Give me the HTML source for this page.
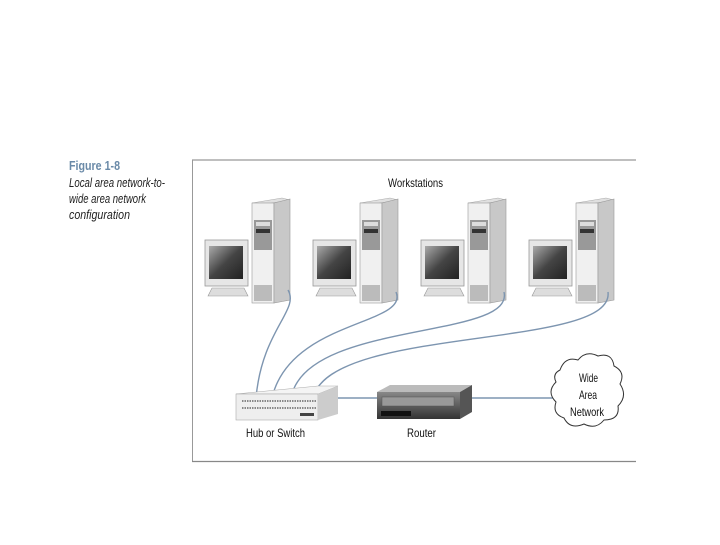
<!DOCTYPE html>
<html><head><meta charset="utf-8"><style>
body{margin:0;background:#fff;width:720px;height:540px;overflow:hidden;font-family:"Liberation Sans",sans-serif}
</style></head><body>
<svg width="720" height="540" viewBox="0 0 720 540" xmlns="http://www.w3.org/2000/svg">
<defs>
<linearGradient id="scr" x1="0" y1="0" x2="1" y2="1"><stop offset="0" stop-color="#aaa"/><stop offset="0.5" stop-color="#444"/><stop offset="1" stop-color="#222"/></linearGradient>
<linearGradient id="rt" x1="0" y1="0" x2="0" y2="1"><stop offset="0" stop-color="#888"/><stop offset="1" stop-color="#333"/></linearGradient>
<g id="ws">
 <rect x="205" y="240" width="43" height="46" fill="#e6e6e6" stroke="#999" stroke-width="0.8"/>
 <rect x="209" y="246" width="34" height="33" fill="url(#scr)"/>
 <polygon points="212,288 244,288 248,296 208,296" fill="#ddd" stroke="#999" stroke-width="0.6"/>
 <polygon points="252,203 282,198 290,200 260,205" fill="#e0e0e0" stroke="#aaa" stroke-width="0.5"/>
 <rect x="252" y="203" width="22" height="100" fill="#f0f0f0" stroke="#999" stroke-width="0.6"/>
 <polygon points="274,203 290,199 290,300 274,303" fill="#c8c8c8" stroke="#999" stroke-width="0.6"/>
 <rect x="254" y="220" width="18" height="30" fill="#999"/>
 <rect x="256" y="222" width="14" height="4" fill="#ddd"/>
 <rect x="256" y="229" width="14" height="4" fill="#333"/>
 <rect x="254" y="285" width="18" height="16" fill="#bbb"/>
</g>
</defs>
<text x="69" y="170" font-size="13" fill="#6a8aa8" font-weight="bold" textLength="51" lengthAdjust="spacingAndGlyphs">Figure 1-8</text>
<text font-size="12.5" font-style="italic" fill="#222">
<tspan x="69" y="187" textLength="96" lengthAdjust="spacingAndGlyphs">Local area network-to-</tspan><tspan x="69" y="203" textLength="77" lengthAdjust="spacingAndGlyphs">wide area network</tspan><tspan x="69" y="219" textLength="61" lengthAdjust="spacingAndGlyphs">configuration</tspan></text>
<line x1="192" y1="160" x2="636" y2="160" stroke="#999" stroke-width="1.2"/>
<line x1="192.5" y1="160" x2="192.5" y2="462" stroke="#999" stroke-width="1"/>
<line x1="192" y1="461.5" x2="636" y2="461.5" stroke="#888" stroke-width="1.2"/>
<text x="388" y="187" font-size="12" fill="#111" textLength="55" lengthAdjust="spacingAndGlyphs">Workstations</text>
<use href="#ws"/>
<use href="#ws" x="108"/>
<use href="#ws" x="216"/>
<use href="#ws" x="324"/>
<g fill="none" stroke="#7d95b0" stroke-width="1.4">
<path d="M288,290 C300,310 262,330 256,398"/>
<path d="M396,292 C410,325 290,320 272,398"/>
<path d="M504,292 C515,340 305,320 291,398"/>
<path d="M608,292 C615,350 330,325 313,398"/>
<line x1="338" y1="398" x2="377" y2="398"/>
<line x1="470" y1="398" x2="556" y2="398"/>
</g>
<polygon points="236,394 318,386 338,386 318,394" fill="#f4f4f4" stroke="#aaa" stroke-width="0.5"/>
<rect x="236" y="394" width="82" height="26" fill="#eee" stroke="#aaa" stroke-width="0.6"/>
<polygon points="318,394 338,386 338,414 318,420" fill="#ccc"/>
<line x1="242" y1="401" x2="316" y2="401" stroke="#666" stroke-width="1.5" stroke-dasharray="1.5,1"/>
<line x1="242" y1="408" x2="316" y2="408" stroke="#666" stroke-width="1.5" stroke-dasharray="1.5,1"/>
<rect x="300" y="413" width="14" height="3" fill="#444"/>
<text x="246" y="437" font-size="12" fill="#111" textLength="59" lengthAdjust="spacingAndGlyphs">Hub or Switch</text>
<polygon points="377,392 390,385 472,385 460,392" fill="#bbb"/>
<rect x="377" y="392" width="83" height="27" fill="url(#rt)"/>
<polygon points="460,392 472,385 472,412 460,419" fill="#555"/>
<rect x="382" y="397" width="72" height="9" fill="#999" stroke="#555" stroke-width="0.5"/>
<rect x="381" y="411" width="30" height="5" fill="#111"/>
<text x="407" y="437" font-size="12" fill="#111" textLength="29" lengthAdjust="spacingAndGlyphs">Router</text>
<path d="M560,370 q5,-14 18,-10 q8,-10 20,-4 q14,-4 16,10 q12,6 6,18 q8,12 -2,22 q2,14 -14,14 q-8,10 -20,4 q-14,6 -20,-6 q-12,-4 -8,-16 q-10,-10 0,-20 q-4,-8 4,-12z" fill="#fff" stroke="#333" stroke-width="1"/>
<text font-size="12" fill="#111"><tspan x="579" y="382" textLength="19" lengthAdjust="spacingAndGlyphs">Wide</tspan><tspan x="579" y="399" textLength="18" lengthAdjust="spacingAndGlyphs">Area</tspan><tspan x="570" y="416" textLength="34" lengthAdjust="spacingAndGlyphs">Network</tspan></text>
</svg>
</body></html>
